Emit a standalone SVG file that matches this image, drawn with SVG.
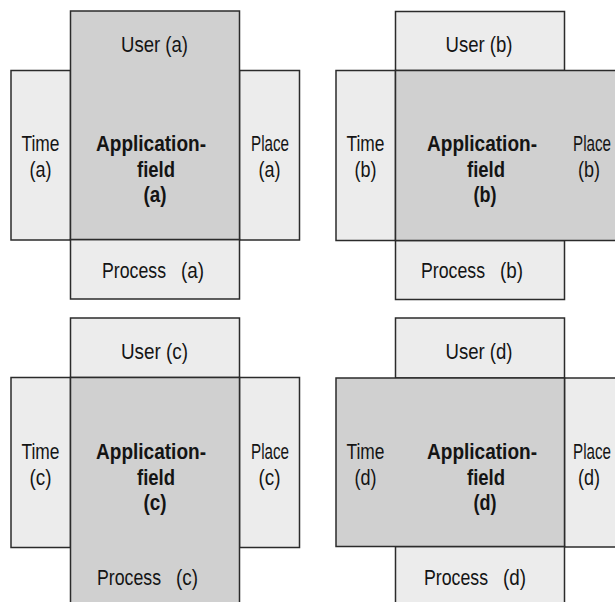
<svg xmlns="http://www.w3.org/2000/svg" width="615" height="602" viewBox="0 0 615 602">
<style>
.lt{fill:#ececec;stroke:#2b2b2b;stroke-width:1.5}
.dk{fill:#d0d0d0;stroke:#2b2b2b;stroke-width:1.5}
text{font-family:"Liberation Sans",Arial,sans-serif;font-size:22px;fill:#141414}
.b{font-weight:bold}
.m{text-anchor:middle}
</style>
<rect width="615" height="602" fill="#ffffff"/>
<g id="panel-a">
  <g id="time-a"><rect class="lt" x="11" y="70.5" width="59.5" height="169.5"/>
    <text class="m"><tspan x="40.5" y="151" textLength="38" lengthAdjust="spacingAndGlyphs">Time</tspan><tspan x="40.5" y="177" textLength="22" lengthAdjust="spacingAndGlyphs">(a)</tspan></text></g>
  <g id="place-a"><rect class="lt" x="239.5" y="70.5" width="60" height="169.5"/>
    <text class="m"><tspan x="270" y="151" textLength="38" lengthAdjust="spacingAndGlyphs">Place</tspan><tspan x="269.5" y="177" textLength="22" lengthAdjust="spacingAndGlyphs">(a)</tspan></text></g>
  <g id="process-a"><rect class="lt" x="70.5" y="239.5" width="169" height="59.5"/>
    <text><tspan x="102" y="278" textLength="64" lengthAdjust="spacingAndGlyphs">Process</tspan> <tspan x="181" y="278" textLength="23" lengthAdjust="spacingAndGlyphs">(a)</tspan></text></g>
  <g id="field-a"><rect class="dk" x="70.5" y="11" width="169" height="228.5"/>
    <text class="m" x="154.5" y="52" textLength="67" lengthAdjust="spacingAndGlyphs">User (a)</text>
    <text class="m b"><tspan x="151" y="151" textLength="110" lengthAdjust="spacingAndGlyphs">Application-</tspan><tspan x="156" y="177" textLength="38" lengthAdjust="spacingAndGlyphs">field</tspan><tspan x="155" y="202" textLength="23" lengthAdjust="spacingAndGlyphs">(a)</tspan></text></g>
</g>
<g id="panel-b">
  <g id="user-b"><rect class="lt" x="395.5" y="11.5" width="169" height="59"/>
    <text class="m" x="479" y="52" textLength="67" lengthAdjust="spacingAndGlyphs">User (b)</text></g>
  <g id="time-b"><rect class="lt" x="336" y="70.5" width="59.5" height="170"/>
    <text class="m"><tspan x="365.5" y="151" textLength="38" lengthAdjust="spacingAndGlyphs">Time</tspan><tspan x="365.5" y="177" textLength="22" lengthAdjust="spacingAndGlyphs">(b)</tspan></text></g>
  <g id="process-b"><rect class="lt" x="395.5" y="240.5" width="169" height="59"/>
    <text><tspan x="421" y="278" textLength="64" lengthAdjust="spacingAndGlyphs">Process</tspan> <tspan x="500" y="278" textLength="23" lengthAdjust="spacingAndGlyphs">(b)</tspan></text></g>
  <g id="field-b"><rect class="dk" x="395.5" y="70.5" width="235" height="170"/>
    <text class="m b"><tspan x="482" y="151" textLength="110" lengthAdjust="spacingAndGlyphs">Application-</tspan><tspan x="486" y="177" textLength="38" lengthAdjust="spacingAndGlyphs">field</tspan><tspan x="485" y="202" textLength="23" lengthAdjust="spacingAndGlyphs">(b)</tspan></text>
    <text class="m"><tspan x="592" y="151" textLength="38" lengthAdjust="spacingAndGlyphs">Place</tspan><tspan x="589" y="177" textLength="22" lengthAdjust="spacingAndGlyphs">(b)</tspan></text></g>
</g>
<g id="panel-c">
  <g id="user-c"><rect class="lt" x="70.5" y="318" width="169" height="59.5"/>
    <text class="m" x="154.5" y="359" textLength="67" lengthAdjust="spacingAndGlyphs">User (c)</text></g>
  <g id="time-c"><rect class="lt" x="11" y="377.5" width="59.5" height="170"/>
    <text class="m"><tspan x="40.5" y="458.5" textLength="38" lengthAdjust="spacingAndGlyphs">Time</tspan><tspan x="40.5" y="484.5" textLength="22" lengthAdjust="spacingAndGlyphs">(c)</tspan></text></g>
  <g id="place-c"><rect class="lt" x="239.5" y="377.5" width="60" height="170"/>
    <text class="m"><tspan x="270" y="458.5" textLength="38" lengthAdjust="spacingAndGlyphs">Place</tspan><tspan x="269.5" y="484.5" textLength="22" lengthAdjust="spacingAndGlyphs">(c)</tspan></text></g>
  <g id="field-c"><rect class="dk" x="70.5" y="377.5" width="169" height="240"/>
    <text class="m b"><tspan x="151" y="458.5" textLength="110" lengthAdjust="spacingAndGlyphs">Application-</tspan><tspan x="156" y="484.5" textLength="38" lengthAdjust="spacingAndGlyphs">field</tspan><tspan x="155" y="509.5" textLength="23" lengthAdjust="spacingAndGlyphs">(c)</tspan></text>
    <text><tspan x="97" y="585" textLength="64" lengthAdjust="spacingAndGlyphs">Process</tspan> <tspan x="176" y="585" textLength="22" lengthAdjust="spacingAndGlyphs">(c)</tspan></text></g>
</g>
<g id="panel-d">
  <g id="user-d"><rect class="lt" x="395.5" y="318" width="169" height="60"/>
    <text class="m" x="479" y="359" textLength="67" lengthAdjust="spacingAndGlyphs">User (d)</text></g>
  <g id="place-d"><rect class="lt" x="564.5" y="378" width="70" height="169"/>
    <text class="m"><tspan x="592" y="458.5" textLength="38" lengthAdjust="spacingAndGlyphs">Place</tspan><tspan x="589" y="484.5" textLength="22" lengthAdjust="spacingAndGlyphs">(d)</tspan></text></g>
  <g id="process-d"><rect class="lt" x="395.5" y="546.5" width="169" height="70"/>
    <text><tspan x="424" y="585" textLength="64" lengthAdjust="spacingAndGlyphs">Process</tspan> <tspan x="503" y="585" textLength="23" lengthAdjust="spacingAndGlyphs">(d)</tspan></text></g>
  <g id="field-d"><rect class="dk" x="336" y="378" width="228.5" height="168.5"/>
    <text class="m"><tspan x="365.5" y="458.5" textLength="38" lengthAdjust="spacingAndGlyphs">Time</tspan><tspan x="365.5" y="484.5" textLength="22" lengthAdjust="spacingAndGlyphs">(d)</tspan></text>
    <text class="m b"><tspan x="482" y="458.5" textLength="110" lengthAdjust="spacingAndGlyphs">Application-</tspan><tspan x="486" y="484.5" textLength="38" lengthAdjust="spacingAndGlyphs">field</tspan><tspan x="485" y="509.5" textLength="23" lengthAdjust="spacingAndGlyphs">(d)</tspan></text></g>
</g>
<g id="connectors"/>
</svg>
